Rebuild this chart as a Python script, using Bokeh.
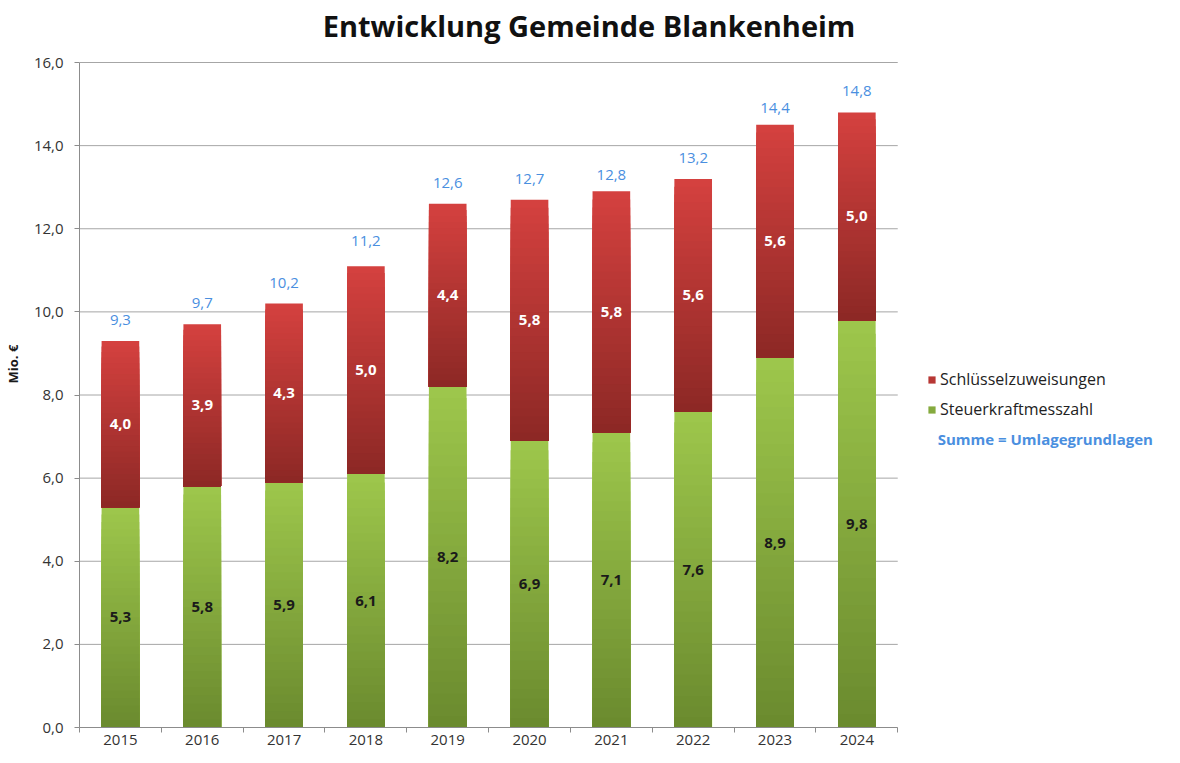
from bokeh.plotting import figure
from bokeh.models import Range1d, FixedTicker, Legend, LegendItem, Label, ColumnDataSource
from bokeh.core.properties import value
from bokeh.embed import file_html
from bokeh.resources import INLINE

# ---- data ----
years = ["2015", "2016", "2017", "2018", "2019", "2020", "2021", "2022", "2023", "2024"]
steuerkraftmesszahl = [5.3, 5.8, 5.9, 6.1, 8.2, 6.9, 7.1, 7.6, 8.9, 9.8]
schluesselzuweisungen = [4.0, 3.9, 4.3, 5.0, 4.4, 5.8, 5.8, 5.6, 5.6, 5.0]
summe = [9.3, 9.7, 10.2, 11.2, 12.6, 12.7, 12.8, 13.2, 14.4, 14.8]
y_ticks = [0, 2, 4, 6, 8, 10, 12, 14, 16]

FONT = "Open Sans"
GREEN_TOP, GREEN_BOT = (158, 199, 76), (106, 138, 46)
RED_TOP, RED_BOT = (213, 65, 63), (140, 40, 37)
BLUE = "#4a8fdf"
N = 30
BAR_W = 0.46

W, H = 1164, 747
FRAME_L, FRAME_T, FRAME_B = 78, 62, 727      # figure pixels of the value area
CAT_R = 897                                   # right end of the category area
BORDER_R = 0
n = len(years)
px_x = (CAT_R - FRAME_L) / n
px_y = (FRAME_B - FRAME_T) / y_ticks[-1]
x_end = (W - BORDER_R - FRAME_L) / px_x
y_end = y_ticks[-1] + FRAME_T / px_y


def fmt(v):
    return f"{v:.1f}".replace(".", ",")


def mix(c_bot, c_top, t):
    return "#%02x%02x%02x" % tuple(int(round(b + (a - b) * t)) for a, b in zip(c_top, c_bot))


def sx_(px):
    return (px - FRAME_L) / px_x


def sy_(py):
    return (FRAME_B - py) / px_y


xs = [i + 0.5 for i in range(n)]

p = figure(width=W, height=H, x_range=Range1d(0, x_end), y_range=Range1d(0, y_end),
           output_backend="svg", toolbar_location=None,
           min_border_left=FRAME_L, min_border_right=0, min_border_top=0,
           min_border_bottom=H - FRAME_B)
p.outline_line_color = None
p.background_fill_color = "white"
p.border_fill_color = "white"

# horizontal grid lines (span the category area only)
p.segment(x0=[0] * len(y_ticks), x1=[n] * len(y_ticks), y0=y_ticks, y1=y_ticks,
          line_color="#a6a6a6", line_width=1)

# gradient bar slices (overlapping, largest first -> no seams)
bx, bb, bt, bc = [], [], [], []
for x, g, r in zip(xs, steuerkraftmesszahl, schluesselzuweisungen):
    for k in reversed(range(N)):
        t = (k + 0.5) / N
        bx.append(x); bb.append(0); bt.append(g * (k + 1) / N); bc.append(mix(GREEN_BOT, GREEN_TOP, t))
    for k in reversed(range(N)):
        t = (k + 0.5) / N
        bx.append(x); bb.append(g); bt.append(g + r * (k + 1) / N); bc.append(mix(RED_BOT, RED_TOP, t))
src = ColumnDataSource(dict(x=bx, bottom=bb, top=bt, color=bc))
bars = p.vbar(x="x", bottom="bottom", top="top", width=BAR_W, source=src,
              fill_color="color", line_color=None)

# value labels
p.text(x=xs, y=[g / 2 for g in steuerkraftmesszahl], text=[fmt(v) for v in steuerkraftmesszahl],
       text_font=value(FONT), text_font_style="bold", text_font_size="15px",
       text_color="#1a1a1a", text_align="center", text_baseline="middle")
p.text(x=xs, y=[g + r / 2 for g, r in zip(steuerkraftmesszahl, schluesselzuweisungen)],
       text=[fmt(v) for v in schluesselzuweisungen],
       text_font=value(FONT), text_font_style="bold", text_font_size="15px",
       text_color="white", text_align="center", text_baseline="middle")
p.text(x=xs, y=summe, text=[fmt(v) for v in summe], y_offset=-21,
       text_font=value(FONT), text_font_size="15px",
       text_color=BLUE, text_align="center", text_baseline="middle")

# axes
p.yaxis.ticker = FixedTicker(ticks=y_ticks)
p.yaxis.bounds = (0, y_ticks[-1])
p.yaxis.major_label_overrides = {t: fmt(t) for t in y_ticks}
p.yaxis.axis_label = "Mio. €"
p.yaxis.axis_label_text_font = FONT
p.yaxis.axis_label_text_font_style = "bold"
p.yaxis.axis_label_text_font_size = "13px"
p.yaxis.axis_label_text_color = "#1a1a1a"
p.yaxis.axis_label_standoff = 9
p.yaxis.major_tick_out = 5
p.yaxis.major_tick_in = 0
p.yaxis.major_tick_line_color = "#8c8c8c"
p.yaxis.minor_tick_line_color = None
p.yaxis.major_label_standoff = 11

p.xaxis.ticker = FixedTicker(ticks=xs, minor_ticks=list(range(n + 1)))
p.xaxis.bounds = (0, n)
p.xaxis.major_label_overrides = {x: y for x, y in zip(xs, years)}
p.xaxis.major_tick_line_color = None
p.xaxis.major_tick_out = 0
p.xaxis.major_tick_in = 0
p.xaxis.minor_tick_out = 5
p.xaxis.minor_tick_in = 0
p.xaxis.minor_tick_line_color = "#8c8c8c"
p.xaxis.major_label_standoff = 2

for ax in (p.xaxis, p.yaxis):
    ax.axis_line_color = "#8c8c8c"
    ax.major_label_text_font = FONT
    ax.major_label_text_font_size = "15px"
    ax.major_label_text_color = "#333333"

p.xgrid.grid_line_color = None
p.ygrid.grid_line_color = None

# title
p.add_layout(Label(x=sx_(588), y=sy_(25), text="Entwicklung Gemeinde Blankenheim",
                   text_font=FONT, text_font_style="bold", text_font_size="29px",
                   text_color="#111111", text_align="center", text_baseline="middle"))

# legend (glyph colours taken from mid-gradient slices of the first bar)
legend = Legend(items=[LegendItem(label="Schlüsselzuweisungen", renderers=[bars], index=N + 12),
                       LegendItem(label="Steuerkraftmesszahl", renderers=[bars], index=14)],
                location=(926 - FRAME_L, FRAME_B - 420), orientation="vertical",
                glyph_width=9, glyph_height=9, label_standoff=4, spacing=8,
                label_height=20, padding=0, margin=0,
                label_text_font=FONT, label_text_font_size="16px", label_text_color="#222222",
                border_line_color=None, background_fill_alpha=0)
p.add_layout(legend, "center")

p.add_layout(Label(x=sx_(937), y=sy_(438), text="Summe = Umlagegrundlagen",
                   text_font=FONT, text_font_style="bold", text_font_size="15px",
                   text_color=BLUE, text_align="left", text_baseline="middle"))

open("out.html", "w").write(file_html(p, INLINE))
